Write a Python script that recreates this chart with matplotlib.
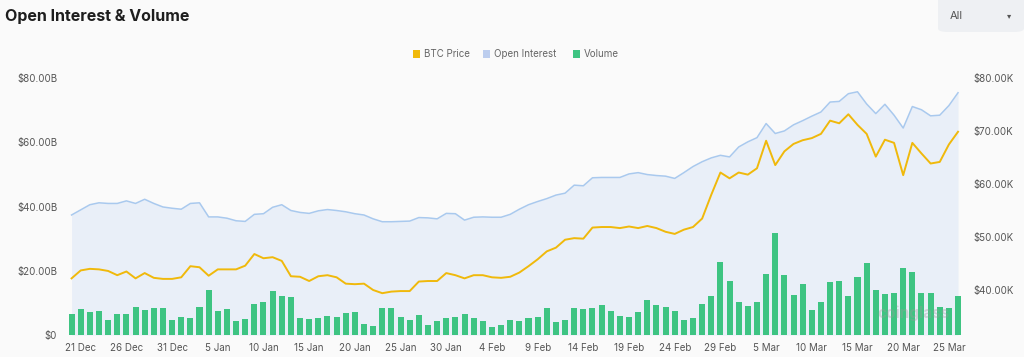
import matplotlib
matplotlib.use("Agg")
import matplotlib.pyplot as plt
from matplotlib.patches import FancyBboxPatch, Rectangle
import numpy as np
import pandas as pd

plt.rcParams['font.family'] = ['Inter', 'DejaVu Sans']

# ---- data ----
start_date = "2023-12-20"
n_days = 98
dates = pd.date_range(start_date, periods=n_days, freq="D")

open_interest_b = [
    37.4, 39.0, 40.6, 41.2, 41.0, 41.0, 41.8, 41.0, 42.3, 41.0,
    39.9, 39.5, 39.2, 41.0, 41.2, 36.8, 36.8, 36.4, 35.6, 35.4,
    37.6, 37.8, 39.8, 40.6, 38.8, 38.2, 37.9, 38.7, 39.1, 38.8,
    38.4, 37.8, 37.4, 36.2, 35.3, 35.3, 35.4, 35.5, 36.6, 36.5,
    36.2, 37.9, 37.8, 35.8, 36.7, 36.8, 36.7, 36.7, 37.6, 39.2,
    40.6, 41.6, 42.5, 43.6, 44.2, 46.7, 46.5, 49.0, 49.1, 49.1,
    49.1, 50.2, 50.6, 50.0, 49.7, 49.5, 48.8, 50.6, 52.5, 54.0,
    55.2, 56.0, 55.5, 58.6, 60.2, 61.5, 65.9, 62.8, 63.6, 65.5,
    66.8, 68.2, 69.5, 72.6, 72.8, 75.2, 75.8, 72.0, 69.0, 71.9,
    68.5, 64.5, 71.2, 70.2, 68.3, 68.5, 71.5, 75.5,
]

btc_price_k = [
    42.2, 43.7, 44.0, 43.9, 43.6, 42.8, 43.5, 42.2, 43.2, 42.3,
    42.1, 42.1, 42.4, 44.5, 44.3, 42.7, 43.9, 43.9, 43.9, 44.6,
    46.8, 46.0, 46.2, 45.5, 42.6, 42.5, 41.7, 42.6, 42.8, 42.4,
    41.2, 41.1, 41.2, 40.0, 39.4, 39.7, 39.8, 39.8, 41.6, 41.7,
    41.7, 43.2, 42.8, 42.2, 42.8, 42.8, 42.4, 42.3, 42.5, 43.3,
    44.5, 45.8, 47.3, 48.0, 49.5, 49.8, 49.7, 51.8, 51.9, 51.9,
    51.7, 52.0, 51.7, 52.1, 51.7, 51.0, 50.6, 51.4, 51.9, 53.5,
    58.0, 62.2, 61.1, 62.2, 61.8, 63.0, 68.2, 63.6, 66.2, 67.6,
    68.3, 68.7, 69.5, 72.0, 71.5, 73.2, 71.2, 69.5, 65.2, 68.4,
    67.8, 61.7, 67.8, 65.8, 63.9, 64.2, 67.5, 69.9,
]

volume_b = [
    6.5, 8.1, 7.3, 7.6, 4.8, 6.5, 6.4, 8.7, 7.9, 8.4,
    8.4, 4.7, 5.5, 5.2, 8.8, 14.0, 7.5, 8.1, 4.4, 5.0,
    9.7, 10.4, 13.6, 12.2, 11.8, 5.3, 5.0, 5.4, 6.0, 5.5,
    6.8, 7.2, 3.4, 2.8, 8.3, 8.3, 5.5, 4.7, 6.1, 3.1,
    4.5, 5.2, 5.7, 6.5, 5.4, 4.5, 2.5, 3.1, 4.6, 4.5,
    5.2, 5.6, 8.3, 4.0, 4.7, 8.5, 8.2, 8.3, 9.3, 7.5,
    5.9, 5.5, 7.3, 10.9, 9.3, 8.6, 7.5, 4.6, 5.4, 9.7,
    12.0, 22.6, 16.8, 10.4, 9.1, 10.3, 18.9, 31.7, 18.8, 12.5,
    15.8, 7.7, 10.4, 16.4, 16.8, 12.2, 18.2, 22.3, 14.1, 12.7,
    13.2, 21.0, 19.6, 13.0, 13.0, 8.6, 8.4, 12.2,
]

left_ticks = [0, 20, 40, 60, 80]
left_labels = ["$0", "$20.00B", "$40.00B", "$60.00B", "$80.00B"]
right_ticks = [40, 50, 60, 70, 80]
right_labels = ["$40.00K", "$50.00K", "$60.00K", "$70.00K", "$80.00K"]
x_label_every = 5
x_label_start = 1

# ---- style ----
BG = "#fafafa"
OI_LINE = "#a9c9ee"
OI_FILL = "#e9eff8"
BTC_COLOR = "#f0b90b"
VOL_COLOR = "#3ec482"
TICK_COLOR = "#555555"

fig = plt.figure(figsize=(10.24, 3.57), dpi=100, facecolor=BG)
ax = fig.add_axes([67 / 1024, 22 / 357, (962.6 - 67) / 1024, (335 - 78.3) / 357])
ax.set_facecolor(BG)
x = np.arange(n_days)

ax.fill_between(x, 0, open_interest_b, color=OI_FILL, lw=0, zorder=1)
ax.plot(x, open_interest_b, color=OI_LINE, lw=1.1, zorder=3)
ax.bar(x, volume_b, width=0.66, color=VOL_COLOR, zorder=2)

ax.set_xlim(-0.5, n_days - 0.5)
ax.set_ylim(0, 80)
ax.set_yticks(left_ticks)
ax.set_yticklabels(left_labels)

xt = list(range(x_label_start, n_days, x_label_every))
ax.set_xticks(xt)
ax.set_xticklabels([f"{d.day} {d.strftime('%b')}" for d in dates[xt]])

ax2 = ax.twinx()
ax2.plot(x, btc_price_k, color=BTC_COLOR, lw=1.4, zorder=4)
ax2.set_ylim(31.5, 80)
ax2.set_yticks(right_ticks)
ax2.set_yticklabels(right_labels)

for a in (ax, ax2):
    for s in a.spines.values():
        s.set_visible(False)
    a.tick_params(length=0, labelsize=7, colors=TICK_COLOR)
ax.tick_params(axis="y", pad=7)
ax2.tick_params(axis="y", pad=8)
ax.tick_params(axis="x", pad=6)

# title
fig.text(5 / 1024, 1 - 16 / 357, "Open Interest & Volume", fontsize=11.5,
         fontweight="bold", color="#1e1e1e", va="center", ha="left")

# dropdown
box = FancyBboxPatch((938 / 1024, 1 - 32 / 357), 86 / 1024, 36 / 357,
                     boxstyle="round,pad=0,rounding_size=0.01",
                     transform=fig.transFigure, facecolor="#eef0f3",
                     edgecolor="none", zorder=0)
fig.patches.append(box)
fig.text(950 / 1024, 1 - 16 / 357, "All", fontsize=8, color="#555555",
         va="center", ha="left")
fig.text(1009 / 1024, 1 - 16 / 357, "▾", fontsize=6, color="#555555",
         va="center", ha="center", family=["DejaVu Sans"])

# legend
leg_items = [("BTC Price", BTC_COLOR, 413), ("Open Interest", "#bccdee", 483),
             ("Volume", VOL_COLOR, 573)]
for label, col, px in leg_items:
    fig.patches.append(Rectangle((px / 1024, 1 - 58 / 357), 7 / 1024, 8 / 357,
                                 transform=fig.transFigure, facecolor=col,
                                 edgecolor="none"))
    fig.text((px + 11) / 1024, 1 - 54 / 357, label, fontsize=7,
             color="#666666", va="center", ha="left")

# watermark
fig.text(913 / 1024, 1 - 313 / 357, "coinglass", fontsize=11, color="#9a9a9a",
         alpha=0.35, va="center", ha="center", fontweight="bold")

fig.savefig("out.png", dpi=100, facecolor=BG)
